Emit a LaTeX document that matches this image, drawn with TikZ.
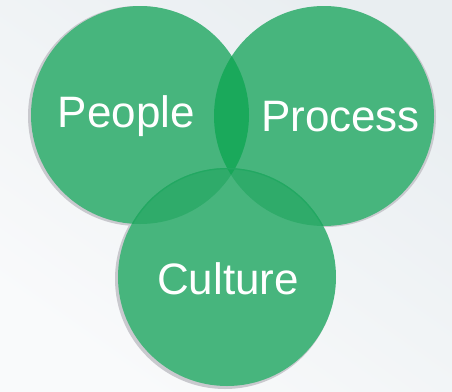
\documentclass[tikz,border=0pt]{standalone}
\usepackage{fontspec}
\setmainfont{Liberation Sans}
\usetikzlibrary{calc}
\definecolor{bgA}{HTML}{E9EEF1}
\definecolor{bgB}{HTML}{F9FAFB}
\definecolor{base}{HTML}{47B57D}
\definecolor{lens}{HTML}{1AA95B}
\definecolor{ovl}{HTML}{2FAB6A}
\definecolor{triple}{HTML}{17A658}
\definecolor{shade}{HTML}{C9C9CE}
\definecolor{rim}{HTML}{22A862}
\tikzset{
  lbl/.style={text=white, anchor=base, font=\fontsize{44}{44}\selectfont, inner sep=0pt},
  shadowc/.style={fill=shade},
  disc/.style={fill=base}
}
\begin{document}
\begin{tikzpicture}[x=1pt,y=-1pt]
\useasboundingbox (0,0) rectangle (452,391);
\shade[bottom color=bgB, top color=bgA, shading angle=-35] (0,0) rectangle (452,391);
% centres
\coordinate (pc) at (140,115);
\coordinate (qc) at (324,116);
\coordinate (cc) at (227,277);
% shadows
\fill[shadowc] ($(pc)+(-2,1)$) circle[radius=110];
\fill[shadowc] ($(qc)+(2,1)$) circle[radius=110];
\fill[shadowc] ($(cc)+(-2,2)$) circle[radius=110];
% discs
\fill[disc] (pc) circle[radius=109];
\fill[disc] (qc) circle[radius=110];
\fill[disc] (cc) circle[radius=109];
% overlaps
\begin{scope}
  \clip (pc) circle[radius=109];
  \fill[lens] (qc) circle[radius=110];
\end{scope}
\begin{scope}
  \clip (pc) circle[radius=109];
  \fill[ovl] (cc) circle[radius=109];
\end{scope}
\begin{scope}
  \clip (qc) circle[radius=110];
  \fill[ovl] (cc) circle[radius=109];
\end{scope}
\begin{scope}
  \clip (pc) circle[radius=109];
  \clip (qc) circle[radius=110];
  \fill[triple] (cc) circle[radius=109];
\end{scope}
% culture rim within overlaps
\begin{scope}
  \clip (pc) circle[radius=109];
  \draw[rim, line width=1.2pt] (cc) circle[radius=108.4];
\end{scope}
\begin{scope}
  \clip (qc) circle[radius=110];
  \draw[rim, line width=1.2pt] (cc) circle[radius=108.4];
\end{scope}
% labels
\node[lbl] (people) at (126.5,127) {People};
\node[lbl] (process) at (340.5,131) {Process};
\node[lbl] (culture) at (228,294) {Culture};
\end{tikzpicture}
\end{document}
